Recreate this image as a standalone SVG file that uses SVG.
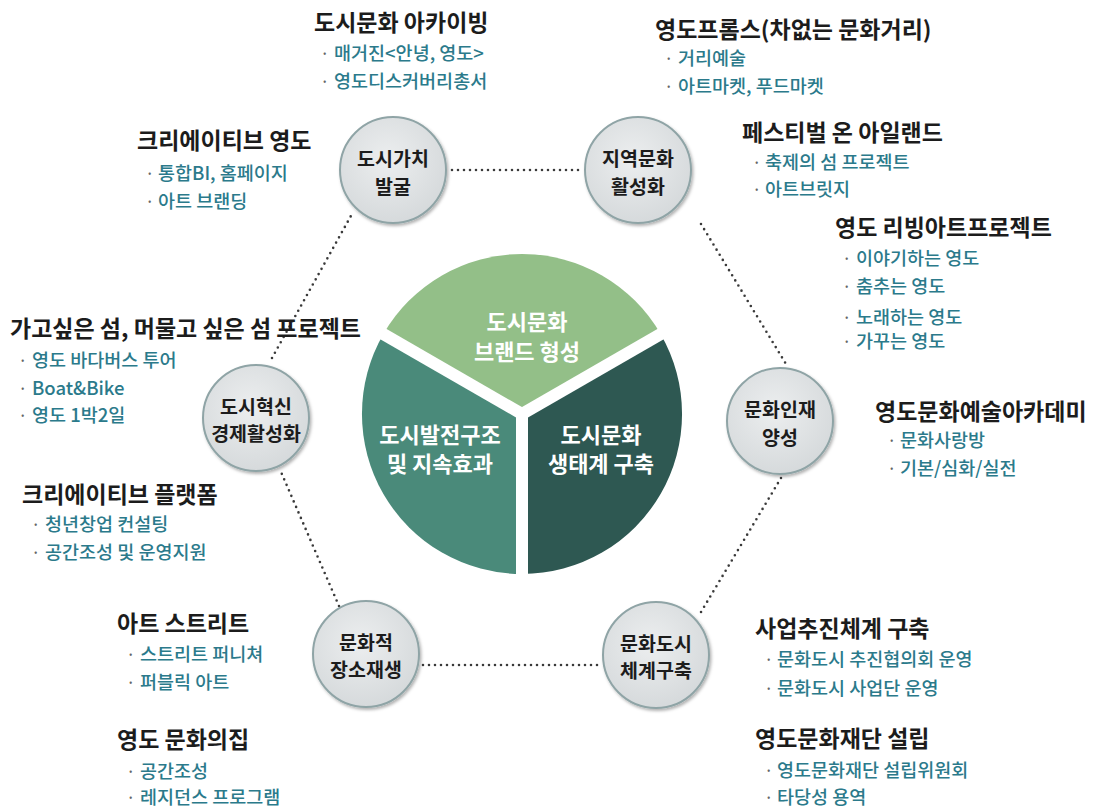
<svg xmlns="http://www.w3.org/2000/svg" width="1103" height="808" viewBox="0 0 1103 808">
  <style>
    text { font-family: "Noto Sans CJK KR", "Noto Sans", sans-serif; }
    .h { font-size: 23px; font-weight: bold; fill: #1c1c1c; dominant-baseline: central; }
    .b { font-size: 18.5px; font-weight: 500; fill: #2b7a8b; dominant-baseline: central; }
    .dot { font-size: 17px; fill: #666; dominant-baseline: central; }
    .ct { font-size: 19.5px; font-weight: bold; fill: #1c1c1c; text-anchor: middle; dominant-baseline: central; }
    .pt { font-size: 22px; font-weight: bold; fill: #ffffff; text-anchor: middle; dominant-baseline: central; }
    .node circle { fill: url(#cg); stroke: #8fa4a6; stroke-width: 2; filter: url(#sh); }
    .conn line { stroke: #3a3a3a; stroke-width: 2.6; stroke-linecap: round; stroke-dasharray: 0 6; fill: none; }
  </style>
  <defs>
    <radialGradient id="cg" cx="0.45" cy="0.4" r="0.65">
      <stop offset="0" stop-color="#eceeef"/>
      <stop offset="1" stop-color="#d4d8da"/>
    </radialGradient>
    <filter id="sh" x="-20%" y="-20%" width="140%" height="140%">
      <feDropShadow dx="1.5" dy="2" stdDeviation="1.5" flood-color="#000" flood-opacity="0.3"/>
    </filter>
  </defs>
  <rect width="1103" height="808" fill="#ffffff"/>

  <g id="connectors" class="conn">
    <line x1="452" y1="170" x2="580" y2="170"/>
    <line x1="701" y1="224" x2="786" y2="364"/>
    <line x1="781" y1="478" x2="701" y2="612"/>
    <line x1="597" y1="665" x2="422" y2="665"/>
    <line x1="339" y1="606" x2="281" y2="472"/>
    <line x1="272" y1="358" x2="352" y2="214"/>
  </g>

  <g id="pie">
    <path d="M522,414 L383.4,334 A160,160 0 0 1 660.6,334 Z" fill="#93bf88"/>
    <path d="M522,414 L660.6,334 A160,160 0 0 1 522,574 Z" fill="#2e5852"/>
    <path d="M522,414 L522,574 A160,160 0 0 1 383.4,334 Z" fill="#4a8a7a"/>
    <g stroke="#ffffff" stroke-width="12" stroke-linecap="butt">
      <line x1="522" y1="414" x2="522" y2="580"/>
      <line x1="522" y1="414" x2="378" y2="331"/>
      <line x1="522" y1="414" x2="666" y2="331"/>
    </g>
    <circle cx="522" cy="414" r="6" fill="#ffffff"/>
    <text class="pt" x="527" y="320">도시문화</text>
    <text class="pt" x="527" y="350">브랜드 형성</text>
    <text class="pt" x="440" y="433">도시발전구조</text>
    <text class="pt" x="440" y="462">및 지속효과</text>
    <text class="pt" x="601" y="433">도시문화</text>
    <text class="pt" x="601" y="462">생태계 구축</text>
  </g>

  <g id="node-a" class="node">
    <circle cx="393" cy="170" r="53"/>
    <text class="ct" x="393" y="157">도시가치</text>
    <text class="ct" x="393" y="185">발굴</text>
  </g>
  <g id="node-b" class="node">
    <circle cx="638" cy="170" r="53"/>
    <text class="ct" x="638" y="157">지역문화</text>
    <text class="ct" x="638" y="185">활성화</text>
  </g>
  <g id="node-c" class="node">
    <circle cx="780" cy="421" r="53"/>
    <text class="ct" x="780" y="408">문화인재</text>
    <text class="ct" x="780" y="436">양성</text>
  </g>
  <g id="node-d" class="node">
    <circle cx="656" cy="655" r="53"/>
    <text class="ct" x="656" y="642">문화도시</text>
    <text class="ct" x="656" y="669">체계구축</text>
  </g>
  <g id="node-e" class="node">
    <circle cx="366" cy="654" r="53"/>
    <text class="ct" x="366" y="641">문화적</text>
    <text class="ct" x="366" y="668">장소재생</text>
  </g>
  <g id="node-f" class="node">
    <circle cx="256" cy="418" r="53"/>
    <text class="ct" x="256" y="405">도시혁신</text>
    <text class="ct" x="256" y="432">경제활성화</text>
  </g>

  <g id="t1">
    <text class="h" x="314" y="21">도시문화 아카이빙</text>
    <text class="dot" x="320" y="52">·</text><text class="b" x="334" y="52">매거진&lt;안녕, 영도&gt;</text>
    <text class="dot" x="320" y="80">·</text><text class="b" x="334" y="80">영도디스커버리총서</text>
  </g>
  <g id="t2">
    <text class="h" x="655" y="28">영도프롬스(차없는 문화거리)</text>
    <text class="dot" x="664" y="57">·</text><text class="b" x="678" y="57">거리예술</text>
    <text class="dot" x="664" y="85">·</text><text class="b" x="678" y="85">아트마켓, 푸드마켓</text>
  </g>
  <g id="t3">
    <text class="h" x="137" y="139">크리에이티브 영도</text>
    <text class="dot" x="145" y="172">·</text><text class="b" x="158" y="172">통합BI, 홈페이지</text>
    <text class="dot" x="145" y="200">·</text><text class="b" x="158" y="200">아트 브랜딩</text>
  </g>
  <g id="t4">
    <text class="h" x="742" y="131">페스티벌 온 아일랜드</text>
    <text class="dot" x="752" y="161">·</text><text class="b" x="765" y="161">축제의 섬 프로젝트</text>
    <text class="dot" x="752" y="188">·</text><text class="b" x="765" y="188">아트브릿지</text>
  </g>
  <g id="t5">
    <text class="h" x="835" y="226">영도 리빙아트프로젝트</text>
    <text class="dot" x="842" y="257">·</text><text class="b" x="856" y="257">이야기하는 영도</text>
    <text class="dot" x="842" y="285">·</text><text class="b" x="856" y="285">춤추는 영도</text>
    <text class="dot" x="842" y="316">·</text><text class="b" x="856" y="316">노래하는 영도</text>
    <text class="dot" x="842" y="340">·</text><text class="b" x="856" y="340">가꾸는 영도</text>
  </g>
  <g id="t6">
    <text class="h" x="10" y="327">가고싶은 섬, 머물고 싶은 섬 프로젝트</text>
    <text class="dot" x="18" y="359">·</text><text class="b" x="32" y="359">영도 바다버스 투어</text>
    <text class="dot" x="18" y="387">·</text><text class="b" x="32" y="387">Boat&amp;Bike</text>
    <text class="dot" x="18" y="414">·</text><text class="b" x="32" y="414">영도 1박2일</text>
  </g>
  <g id="t7">
    <text class="h" x="875" y="410">영도문화예술아카데미</text>
    <text class="dot" x="887" y="439">·</text><text class="b" x="900" y="439">문화사랑방</text>
    <text class="dot" x="887" y="467">·</text><text class="b" x="900" y="467">기본/심화/실전</text>
  </g>
  <g id="t8">
    <text class="h" x="22" y="493">크리에이티브 플랫폼</text>
    <text class="dot" x="31" y="523">·</text><text class="b" x="45" y="523">청년창업 컨설팅</text>
    <text class="dot" x="31" y="551">·</text><text class="b" x="45" y="551">공간조성 및 운영지원</text>
  </g>
  <g id="t9">
    <text class="h" x="117" y="622">아트 스트리트</text>
    <text class="dot" x="126" y="653">·</text><text class="b" x="140" y="653">스트리트 퍼니쳐</text>
    <text class="dot" x="126" y="681">·</text><text class="b" x="140" y="681">퍼블릭 아트</text>
  </g>
  <g id="t10">
    <text class="h" x="755" y="627">사업추진체계 구축</text>
    <text class="dot" x="764" y="658">·</text><text class="b" x="777" y="658">문화도시 추진협의회 운영</text>
    <text class="dot" x="764" y="687">·</text><text class="b" x="777" y="687">문화도시 사업단 운영</text>
  </g>
  <g id="t11">
    <text class="h" x="117" y="738">영도 문화의집</text>
    <text class="dot" x="126" y="770">·</text><text class="b" x="140" y="770">공간조성</text>
    <text class="dot" x="126" y="796">·</text><text class="b" x="140" y="796">레지던스 프로그램</text>
  </g>
  <g id="t12">
    <text class="h" x="755" y="737">영도문화재단 설립</text>
    <text class="dot" x="764" y="769">·</text><text class="b" x="777" y="769">영도문화재단 설립위원회</text>
    <text class="dot" x="764" y="796">·</text><text class="b" x="777" y="796">타당성 용역</text>
  </g>
</svg>
